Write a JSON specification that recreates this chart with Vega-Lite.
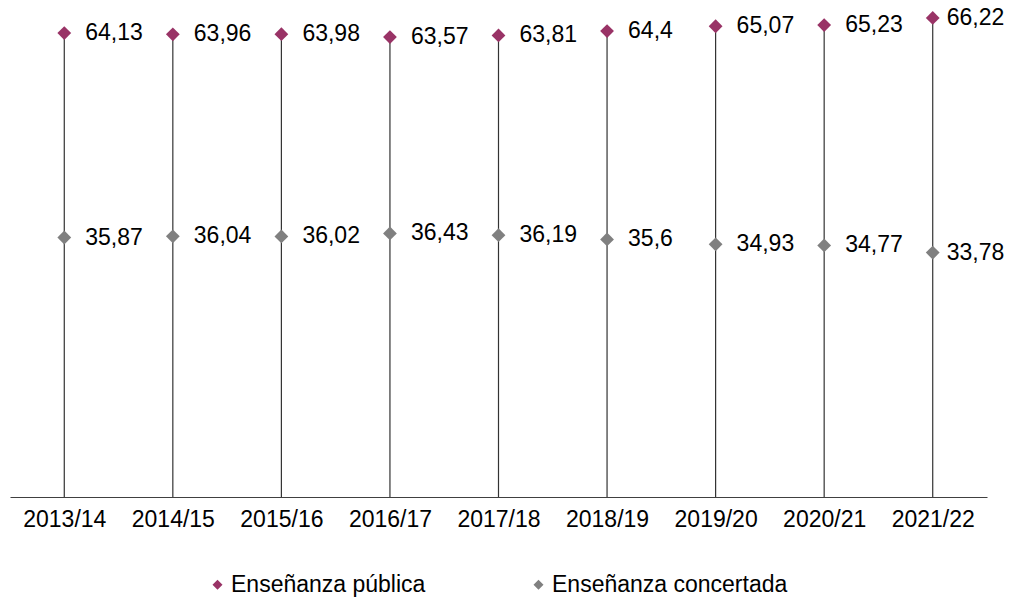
{
  "$schema": "https://vega.github.io/schema/vega-lite/v6.json",
  "width": 977,
  "height": 497,
  "padding": {"left": 10, "top": 0, "right": 0, "bottom": 5},
  "background": "white",
  "config": {
    "view": {"stroke": null},
    "font": "Liberation Sans",
    "locale": {"number": {"decimal": ",", "thousands": ".", "grouping": [3], "currency": ["", " €"]}}
  },
  "data": {
    "values": [
      {"curso": "2013/14", "Enseñanza pública": 64.13, "Enseñanza concertada": 35.87},
      {"curso": "2014/15", "Enseñanza pública": 63.96, "Enseñanza concertada": 36.04},
      {"curso": "2015/16", "Enseñanza pública": 63.98, "Enseñanza concertada": 36.02},
      {"curso": "2016/17", "Enseñanza pública": 63.57, "Enseñanza concertada": 36.43},
      {"curso": "2017/18", "Enseñanza pública": 63.81, "Enseñanza concertada": 36.19},
      {"curso": "2018/19", "Enseñanza pública": 64.4, "Enseñanza concertada": 35.6},
      {"curso": "2019/20", "Enseñanza pública": 65.07, "Enseñanza concertada": 34.93},
      {"curso": "2020/21", "Enseñanza pública": 65.23, "Enseñanza concertada": 34.77},
      {"curso": "2021/22", "Enseñanza pública": 66.22, "Enseñanza concertada": 33.78}
    ]
  },
  "encoding": {
    "x": {
      "field": "curso",
      "type": "nominal",
      "sort": null,
      "scale": {"type": "point", "padding": 0.5},
      "axis": {
        "title": null,
        "labelAngle": 0,
        "ticks": false,
        "labelPadding": 11,
        "labelFontSize": 23,
        "labelColor": "#000000",
        "domainColor": "#404040",
        "domainWidth": 1.2,
        "grid": false
      }
    }
  },
  "layer": [
    {
      "mark": {"type": "rule", "color": "#333333", "strokeWidth": 1.2},
      "encoding": {
        "y": {"field": "Enseñanza pública", "type": "quantitative", "scale": {"domain": [0, 68.7], "nice": false}, "axis": null},
        "y2": {"datum": 0}
      }
    },
    {
      "transform": [{"fold": ["Enseñanza pública", "Enseñanza concertada"], "as": ["serie", "valor"]}],
      "encoding": {
        "y": {"field": "valor", "type": "quantitative", "scale": {"domain": [0, 68.7], "nice": false}, "axis": null}
      },
      "layer": [
        {
          "mark": {"type": "point", "shape": "diamond", "filled": true, "opacity": 1, "size": 190},
          "encoding": {
            "color": {
              "field": "serie",
              "type": "nominal",
              "sort": ["Enseñanza pública", "Enseñanza concertada"],
              "scale": {"domain": ["Enseñanza pública", "Enseñanza concertada"], "range": ["#993366", "#808080"]},
              "legend": {
                "title": null,
                "orient": "none",
                "legendX": 196,
                "legendY": 573,
                "direction": "horizontal",
                "labelFontSize": 23,
                "labelLimit": 0,
                "labelColor": "#000000",
                "symbolType": "diamond",
                "symbolSize": 100,
                "labelOffset": 2,
                "columnPadding": 101
              }
            }
          }
        },
        {
          "transform": [{"filter": "datum.curso !== '2021/22'"}],
          "mark": {"type": "text", "align": "left", "baseline": "middle", "dx": 21, "fontSize": 23, "color": "#000000"},
          "encoding": {
            "text": {"field": "valor", "type": "quantitative", "format": "~g"}
          }
        },
        {
          "transform": [{"filter": "datum.curso === '2021/22'"}],
          "mark": {"type": "text", "align": "left", "baseline": "middle", "dx": 14, "fontSize": 23, "color": "#000000"},
          "encoding": {
            "text": {"field": "valor", "type": "quantitative", "format": "~g"}
          }
        }
      ]
    }
  ]
}
